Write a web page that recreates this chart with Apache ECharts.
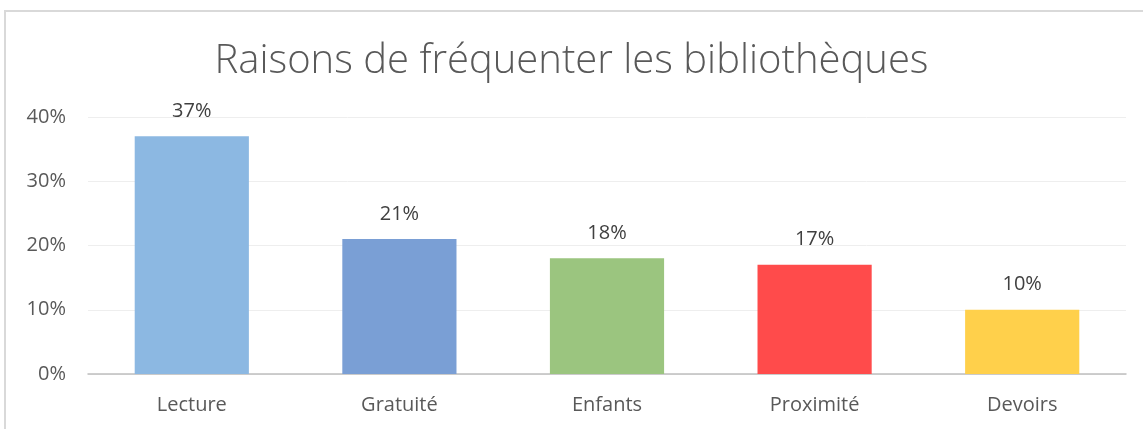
<!DOCTYPE html>
<html>
<head>
<meta charset="utf-8">
<script src="https://cdn.jsdelivr.net/npm/echarts@6/dist/echarts.min.js"></script>
<style>
html, body { margin: 0; padding: 0; background: #fff; }
#chart { width: 1143px; height: 429px; }
</style>
</head>
<body>
<div id="chart"></div>
<script>
var categories = ['Lecture', 'Gratuité', 'Enfants', 'Proximité', 'Devoirs'];
var values = [37, 21, 18, 17, 10];
var barColors = ['#8cb8e2', '#7a9fd5', '#9bc57f', '#ff4b4b', '#ffd04b'];

var chart = echarts.init(document.getElementById('chart'));
var font = '"Open Sans", Lato, sans-serif';

var option = {
    animation: false,
    backgroundColor: '#fff',
    title: {
        text: 'Raisons de fréquenter les bibliothèques',
        left: 'center',
        top: 37,
        textStyle: {
            color: '#595959',
            fontFamily: font,
            fontWeight: 300,
            fontSize: 40
        }
    },
    graphic: [{
        type: 'rect',
        shape: { x: 5, y: 11, width: 1200, height: 500 },
        style: { fill: 'none', stroke: '#d9d9d9', lineWidth: 2 },
        silent: true
    }],
    grid: { left: 88, right: 17, top: 117, bottom: 55 },
    xAxis: {
        type: 'category',
        data: categories,
        axisTick: { show: false },
        axisLine: { lineStyle: { color: '#bfbfbf', width: 1.5 } },
        axisLabel: { color: '#595959', fontFamily: font, fontSize: 20, margin: 21 }
    },
    yAxis: {
        type: 'value',
        min: 0,
        max: 40,
        interval: 10,
        axisLine: { show: false },
        axisTick: { show: false },
        splitLine: { lineStyle: { color: '#eeeeee' } },
        axisLabel: { color: '#595959', fontFamily: font, fontSize: 20, margin: 22, formatter: '{value}%' }
    },
    series: [{
        type: 'bar',
        barWidth: '55%',
        data: values.map(function (v, i) {
            return { value: v, itemStyle: { color: barColors[i] } };
        }),
        label: {
            show: true,
            position: 'top',
            distance: 15,
            formatter: '{c}%',
            color: '#404040',
            fontFamily: font,
            fontSize: 20
        }
    }]
};
chart.setOption(option);
</script>
</body>
</html>
